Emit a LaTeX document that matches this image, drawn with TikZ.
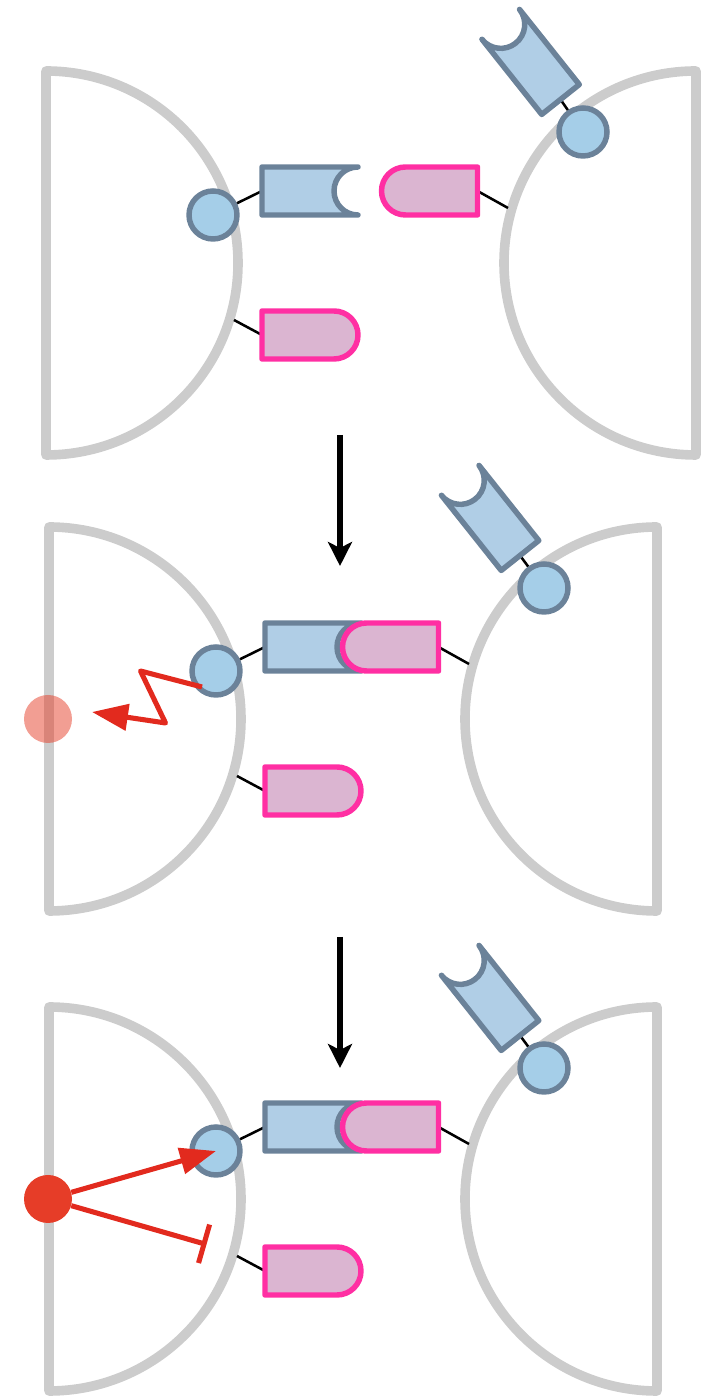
\documentclass[tikz,border=0pt]{standalone}
\usepackage{xcolor}
\usetikzlibrary{arrows.meta}
\definecolor{membgray}{HTML}{CCCCCC}
\definecolor{recblue}{HTML}{A5CEE8}
\definecolor{armblue}{HTML}{B0CEE6}
\definecolor{edgeblue}{HTML}{6B8299}
\definecolor{ligpink}{HTML}{FF2FA3}
\definecolor{ligfill}{HTML}{DBB5D1}
\definecolor{sigred}{HTML}{E22A1E}
\definecolor{srcred}{HTML}{E63D28}

\tikzset{
  pics/armshape/.style={code={
    \draw[armstyle] (96,24) -- (0,24) -- (0,-24) -- (96,-24) arc[start angle=-90,end angle=-270,radius=24];
  }},
  pics/ligshape/.style={code={
    \draw[ligstyle] (0,24) -- (72,24) arc[start angle=90,end angle=-90,radius=24] -- (0,-24) -- cycle;
  }},
}

\begin{document}
\begin{tikzpicture}[x=0.75pt,y=0.75pt,
    memb/.style={draw=membgray,line width=7.2pt,line join=round},
    armstyle/.style={draw=edgeblue,fill=armblue,line width=4.1pt,line join=round,line cap=round},
    ligstyle/.style={draw=ligpink,fill=ligfill,line width=4.1pt,line join=round},
    rcpt/.style={circle,draw=edgeblue,fill=recblue,line width=4.1pt,minimum size=36pt,inner sep=0pt},
    src/.style={circle,fill=srcred,minimum size=36pt,inner sep=0pt},
    link/.style={draw=black,line width=1.9pt},
    sigline/.style={draw=sigred,line width=3.8pt,line join=round},
    step arrow/.style={draw=black,line width=4pt,-{Stealth[length=18pt,width=18pt,inset=4.5pt]}}]
    \useasboundingbox (0,0) rectangle (717,1396);

    % three stages, each with a left and a right cell
    \foreach \p/\lx/\rx/\cy/\ax in {a/46/696/1133/-135.5,b/49/657/677/-137,c/49/657/197/-137}{
      \begin{scope}[shift={(\lx,\cy)}]
        \draw[memb] (0,192) arc[start angle=90,end angle=-90,radius=192] -- cycle;
        \node[rcpt] (\p-rcpt) at (167,48) {};
        \coordinate (\p-arm) at (216,72);
        \coordinate (\p-lig) at (216,-72);
        \coordinate (\p-anch) at (188,-57);
        \draw[link] (\p-rcpt) -- (\p-arm);
        \draw[link] (\p-anch) -- (\p-lig);
        \pic at (\p-arm) {armshape};
        \pic at (\p-lig) {ligshape};
      \end{scope}
      \begin{scope}[shift={(\rx,\cy)}]
        \draw[memb] (0,192) arc[start angle=90,end angle=270,radius=192] -- cycle;
        \node[rcpt] (\p-rrcpt) at (-113,131) {};
        \coordinate (\p-rarm) at (\ax,163.5);
        \coordinate (\p-rlig) at (-218.5,72);
        \coordinate (\p-ranch) at (-188,55);
        \draw[link] (\p-rrcpt) -- (\p-rarm);
        \draw[link] (\p-rlig) -- (\p-ranch);
        \pic[rotate=128.5] at (\p-rarm) {armshape};
        \pic[rotate=180] at (\p-rlig) {ligshape};
      \end{scope}
    }

    \coordinate (s1) at (340,961);
    \coordinate (s2) at (340,830);
    \coordinate (s3) at (340,459);
    \coordinate (s4) at (340,328);
    \draw[step arrow] (s1) -- (s2);
    \draw[step arrow] (s3) -- (s4);

    % release after docking
    \node[src,opacity=0.5] (b-src) at (48,677) {};
    \coordinate (z0) at (202,709);
    \coordinate (z1) at (140.5,725);
    \coordinate (z2) at (165.5,673);
    \coordinate (z3) at (92,684);
    \draw[sigline,-{Triangle[length=27pt,width=19.5pt]}] (z0) -- (z1) -- (z2) -- (z3);

    % feedback onto the receptor and the ligand
    \node[src] (c-src) at (48,197) {};
    \coordinate (c-inh) at (206.5,151.5);
    \draw[sigline,-{Triangle[length=27pt,width=19.5pt]}] (c-src) -- (c-rcpt.center);
    \draw[sigline,-{Bar[width=30pt]}] (c-src) -- (c-inh);
\end{tikzpicture}
\end{document}
